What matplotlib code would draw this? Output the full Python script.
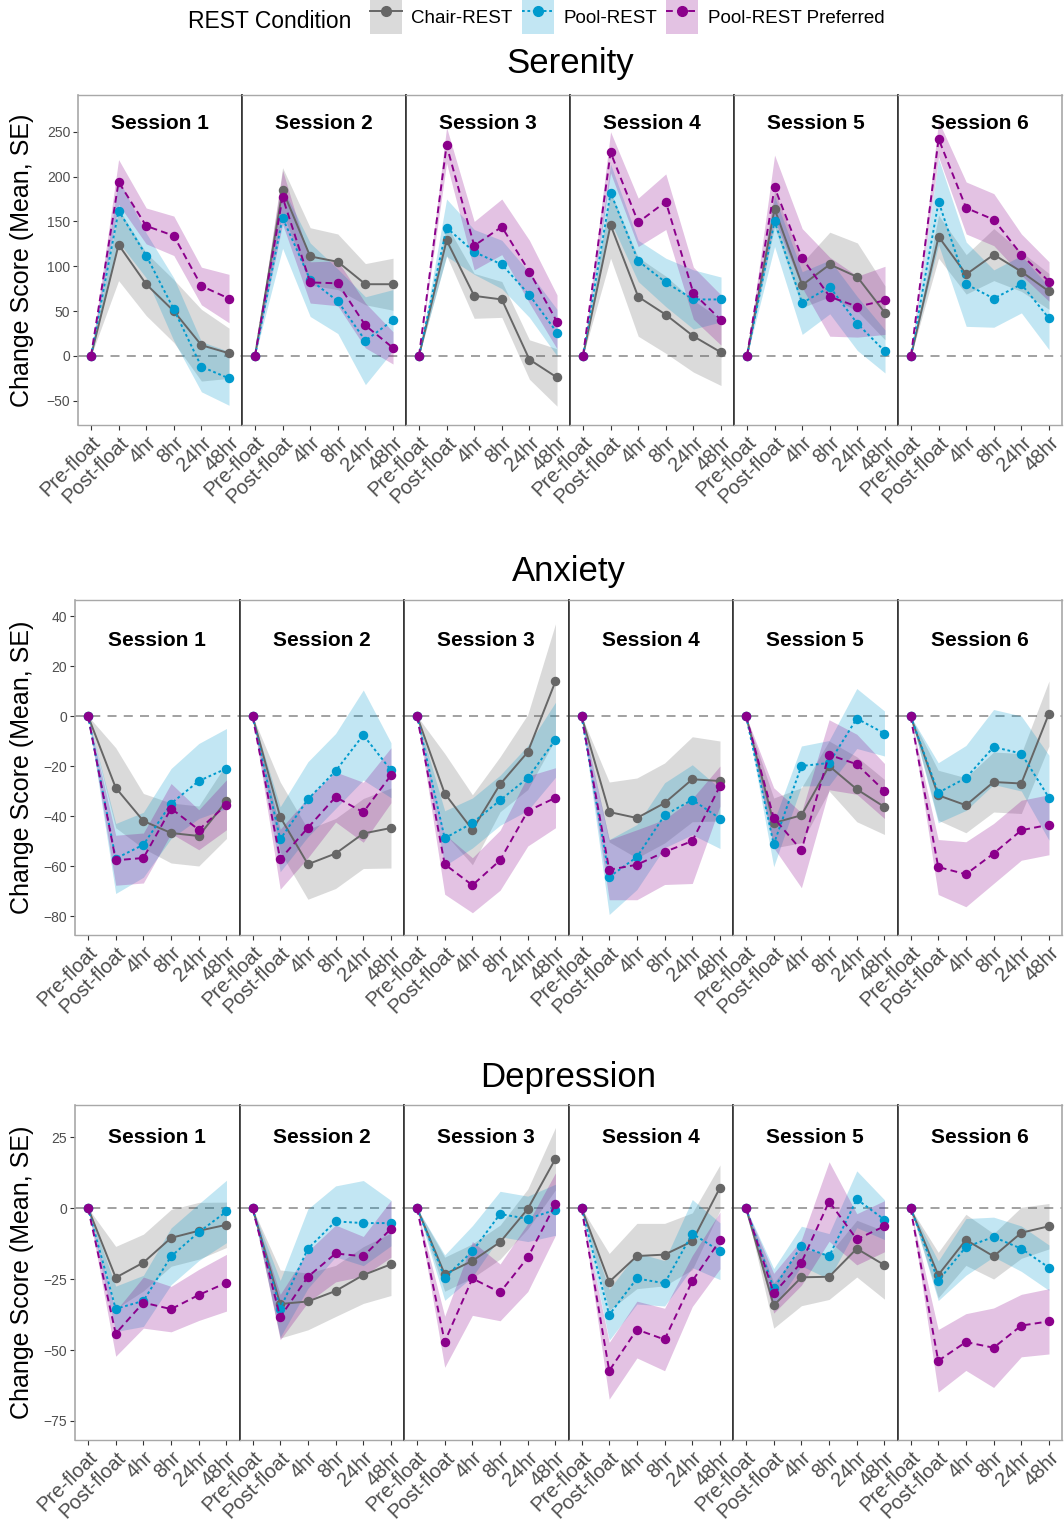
import numpy as np
import matplotlib
matplotlib.use('Agg')
import matplotlib.pyplot as plt
from matplotlib.patches import Patch
from matplotlib.lines import Line2D

plt.rcParams['font.family'] = ['Liberation Sans', 'DejaVu Sans']

time_labels = ['Pre-float', 'Post-float', '4hr', '8hr', '24hr', '48hr']
sessions = ['Session 1', 'Session 2', 'Session 3', 'Session 4', 'Session 5', 'Session 6']
conditions = ['Chair-REST', 'Pool-REST', 'Pool-REST Preferred']

# Serenity: mean change score per session, and SE
serenity_chair = [[0, 124, 80, 50, 12, 3], [0, 185, 111, 105, 80, 80], [0, 129, 67, 63, -4, -24],
                  [0, 146, 66, 46, 22, 4], [0, 164, 79, 102, 88, 48], [0, 133, 91, 113, 94, 72]]
serenity_chair_se = [[0, 40, 35, 35, 40, 28], [0, 25, 32, 31, 23, 29], [0, 17, 25, 20, 22, 32],
                     [0, 37, 44, 43, 40, 37], [0, 20, 25, 36, 38, 30], [0, 24, 22, 29, 22, 20]]
serenity_pool = [[0, 162, 112, 52, -12, -25], [0, 154, 85, 61, 17, 40], [0, 143, 116, 102, 68, 26],
                 [0, 182, 106, 82, 63, 63], [0, 150, 59, 77, 36, 5], [0, 172, 80, 64, 80, 42]]
serenity_pool_se = [[0, 35, 25, 35, 28, 30], [0, 34, 41, 36, 49, 34], [0, 32, 25, 27, 25, 26],
                    [0, 32, 23, 27, 33, 25], [0, 28, 35, 30, 30, 24], [0, 48, 47, 32, 32, 35]]
serenity_pref = [[0, 194, 145, 134, 78, 64], [0, 177, 82, 81, 34, 9], [0, 235, 123, 144, 94, 38],
                 [0, 227, 149, 172, 70, 40], [0, 188, 109, 66, 55, 62], [0, 242, 165, 152, 113, 83]]
serenity_pref_se = [[0, 25, 20, 22, 21, 27], [0, 30, 23, 25, 25, 18], [0, 20, 27, 31, 35, 30],
                    [0, 23, 27, 31, 29, 28], [0, 36, 33, 44, 34, 38], [0, 20, 29, 29, 23, 22]]

# Anxiety
anxiety_chair = [[0, -28.7, -42, -46.8, -48, -34], [0, -40.4, -59.3, -55, -47, -44.8],
                 [0, -31, -45.5, -27.3, -14.4, 13.9], [0, -38.4, -40.8, -34.8, -25.3, -26],
                 [0, -42.8, -39.7, -20, -29.3, -36.4], [0, -31.7, -35.7, -26.4, -27, 1]]
anxiety_chair_se = [[0, 16, 11, 12, 12, 15], [0, 14, 14, 14, 14, 16], [0, 16, 14, 11, 15, 23],
                    [0, 12, 16, 16, 17, 16], [0, 10, 11, 10, 13, 11], [0, 10, 11, 12, 12, 13]]
anxiety_pool = [[0, -57, -51.5, -35, -26, -21], [0, -49.3, -33.3, -22, -7.6, -21.7],
                [0, -48.9, -42.8, -33.7, -24.8, -9.5], [0, -64.4, -56.4, -39.7, -33.5, -41],
                [0, -51.3, -20, -18.8, -1, -7], [0, -30.7, -24.8, -12.4, -15, -32.7]]
anxiety_pool_se = [[0, 14, 13, 14, 15, 16], [0, 13, 15, 15, 18, 11], [0, 11, 10, 10, 13, 15],
                   [0, 15, 13, 13, 14, 12], [0, 9, 8, 9, 12, 9], [0, 12, 13, 15, 15, 17]]
anxiety_pref = [[0, -57.7, -56.8, -37, -45.5, -35.5], [0, -57.3, -44.7, -32.4, -38.5, -23.7],
                [0, -59.3, -67.7, -57.7, -38, -32.7], [0, -61.5, -59.5, -54.4, -50, -28],
                [0, -40.7, -53.7, -15.5, -19.3, -30], [0, -60.4, -63.3, -55, -45.7, -43.5]]
anxiety_pref_se = [[0, 10, 10, 10, 8, 10], [0, 12, 12, 10, 12, 11], [0, 12, 11, 12, 14, 12],
                   [0, 12, 14, 13, 17, 8], [0, 12, 15, 14, 12, 11], [0, 11, 13, 12, 12, 12]]

# Depression
depression_chair = [[0, -24.5, -19.2, -10.5, -8, -5.9], [0, -33.8, -32.9, -29.2, -23.6, -19.8],
                    [0, -23.3, -18.6, -12, -0.3, 17.4], [0, -26, -16.9, -16.4, -11.7, 7.2],
                    [0, -34.3, -24.4, -24.2, -14.3, -20.1], [0, -23.6, -11.2, -17, -8.7, -6.4]]
depression_chair_se = [[0, 11, 10, 10, 10, 8], [0, 12, 10, 9, 10, 11], [0, 6, 6, 6, 7, 11],
                       [0, 10, 11.5, 11, 10, 8], [0, 8, 10, 8, 10, 12], [0, 8, 9, 8, 9, 8]]
depression_pool = [[0, -35.5, -32.7, -17, -8.5, -1.2], [0, -35.5, -14.3, -4.7, -5.3, -5.3],
                   [0, -24.5, -15.2, -2.1, -3.8, -0.6], [0, -37.6, -24.8, -26.5, -9, -15.2],
                   [0, -28.3, -13.4, -17, 3.1, -4.1], [0, -25.6, -13.7, -10.2, -14.3, -21]]
depression_pool_se = [[0, 8, 9, 10, 10, 11], [0, 10, 14, 12.5, 15, 8], [0, 8, 9, 8, 8, 9],
                      [0, 9, 9, 8, 12, 10], [0, 7, 7, 8, 10, 7], [0, 7, 10, 7, 8, 8]]
depression_pref = [[0, -44.2, -33.3, -35.6, -30.6, -26.3], [0, -38.4, -24.2, -16, -17, -7.3],
                   [0, -47.1, -24.8, -29.7, -17.4, 1.4], [0, -57.3, -42.8, -46.3, -25.7, -11.4],
                   [0, -30, -19.2, 2.3, -11, -6.4], [0, -53.8, -47.2, -49.2, -41.4, -39.9]]
depression_pref_se = [[0, 8, 9, 8, 9, 10], [0, 8, 9, 10, 7, 10], [0, 9, 13, 10, 12, 11],
                      [0, 10, 10, 11, 9, 10], [0, 7, 8, 14, 9, 9], [0, 11, 10, 14, 11, 11.5]]

colors = ['#666666', '#009ACD', '#8B008B']
styles = ['-', (0, (1.4, 1.4)), (0, (3.5, 2.2))]

W, H = 1064, 1521
fig = plt.figure(figsize=(W / 100, H / 100), dpi=100)

rows = [
    dict(title='Serenity', means=[serenity_chair, serenity_pool, serenity_pref],
         ses=[serenity_chair_se, serenity_pool_se, serenity_pref_se],
         left=78, top=95, bottom=425, ylim=(-77, 291), yticks=[-50, 0, 50, 100, 150, 200, 250],
         label_y=259, title_y=64),
    dict(title='Anxiety', means=[anxiety_chair, anxiety_pool, anxiety_pref],
         ses=[anxiety_chair_se, anxiety_pool_se, anxiety_pref_se],
         left=75, top=600, bottom=935, ylim=(-87.6, 46.4), yticks=[-80, -60, -40, -20, 0, 20, 40],
         label_y=30, title_y=572),
    dict(title='Depression', means=[depression_chair, depression_pool, depression_pref],
         ses=[depression_chair_se, depression_pool_se, depression_pref_se],
         left=75, top=1105, bottom=1440, ylim=(-81.7, 36.3), yticks=[-75, -50, -25, 0, 25],
         label_y=25, title_y=1078),
]

right = 1062
x = np.arange(len(time_labels))
for row in rows:
    fw = (right - row['left']) / 6
    for s in range(6):
        ax = fig.add_axes([(row['left'] + s * fw) / W, 1 - row['bottom'] / H,
                           fw / W, (row['bottom'] - row['top']) / H])
        ax.axhline(0, color='#9a9a9a', ls=(0, (5, 4)), lw=1.3, zorder=1)
        for c in range(3):
            m = np.array(row['means'][c][s])
            e = np.array(row['ses'][c][s])
            ax.fill_between(x, m - e, m + e, color=colors[c], alpha=0.24, lw=0, zorder=2)
        for c in range(3):
            ax.plot(x, row['means'][c][s], color=colors[c], ls=styles[c], lw=1.4,
                    marker='o', ms=5.8, zorder=3)
        ax.text(2.5, row['label_y'], sessions[s], ha='center', va='center',
                fontsize=15, fontweight='bold')
        ax.set_xlim(-0.47, 5.47)
        ax.set_ylim(*row['ylim'])
        ax.set_xticks(x)
        ax.set_xticklabels(time_labels, rotation=45, ha='right', rotation_mode='anchor',
                           fontsize=14.5, color='#4d4d4d')
        ax.tick_params(axis='x', length=3.5, color='#333333', pad=2)
        ax.set_yticks(row['yticks'])
        if s == 0:
            ax.tick_params(axis='y', length=3.5, color='#333333', labelsize=10,
                           labelcolor='#4d4d4d', pad=2)
        else:
            ax.tick_params(axis='y', left=False, labelleft=False)
        for side in ['top', 'bottom']:
            ax.spines[side].set_color('#a8a8a8')
            ax.spines[side].set_linewidth(1.0)
        ax.spines['left'].set_color('#a8a8a8' if s == 0 else '#333333')
        ax.spines['right'].set_color('#a8a8a8' if s == 5 else '#333333')
        ax.spines['left'].set_linewidth(1.2)
        ax.spines['right'].set_linewidth(1.2)
    fig.text((row['left'] + right) / 2 / W, 1 - row['title_y'] / H, row['title'],
             ha='center', va='center', fontsize=25)
    fig.text(22 / W, 1 - (row['top'] + row['bottom']) / 2 / H, 'Change Score (Mean, SE)',
             rotation=90, ha='center', va='center', fontsize=18)

# legend
fig.text(188 / W, 1 - 22 / H, 'REST Condition', ha='left', va='center', fontsize=16.5)
handles = []
for c in range(3):
    handles.append((Patch(facecolor=colors[c], alpha=0.24, lw=0),
                    Line2D([], [], color=colors[c], ls=styles[c], lw=1.4, marker='o', ms=7)))
fig.legend(handles, conditions, loc='center left', bbox_to_anchor=(370 / W, 1 - 17 / H),
           ncol=3, frameon=False, fontsize=13.5, handlelength=1.7, handleheight=2.4,
           handletextpad=0.5, columnspacing=0.5, borderpad=0, borderaxespad=0)

fig.savefig('out.png', dpi=100)
